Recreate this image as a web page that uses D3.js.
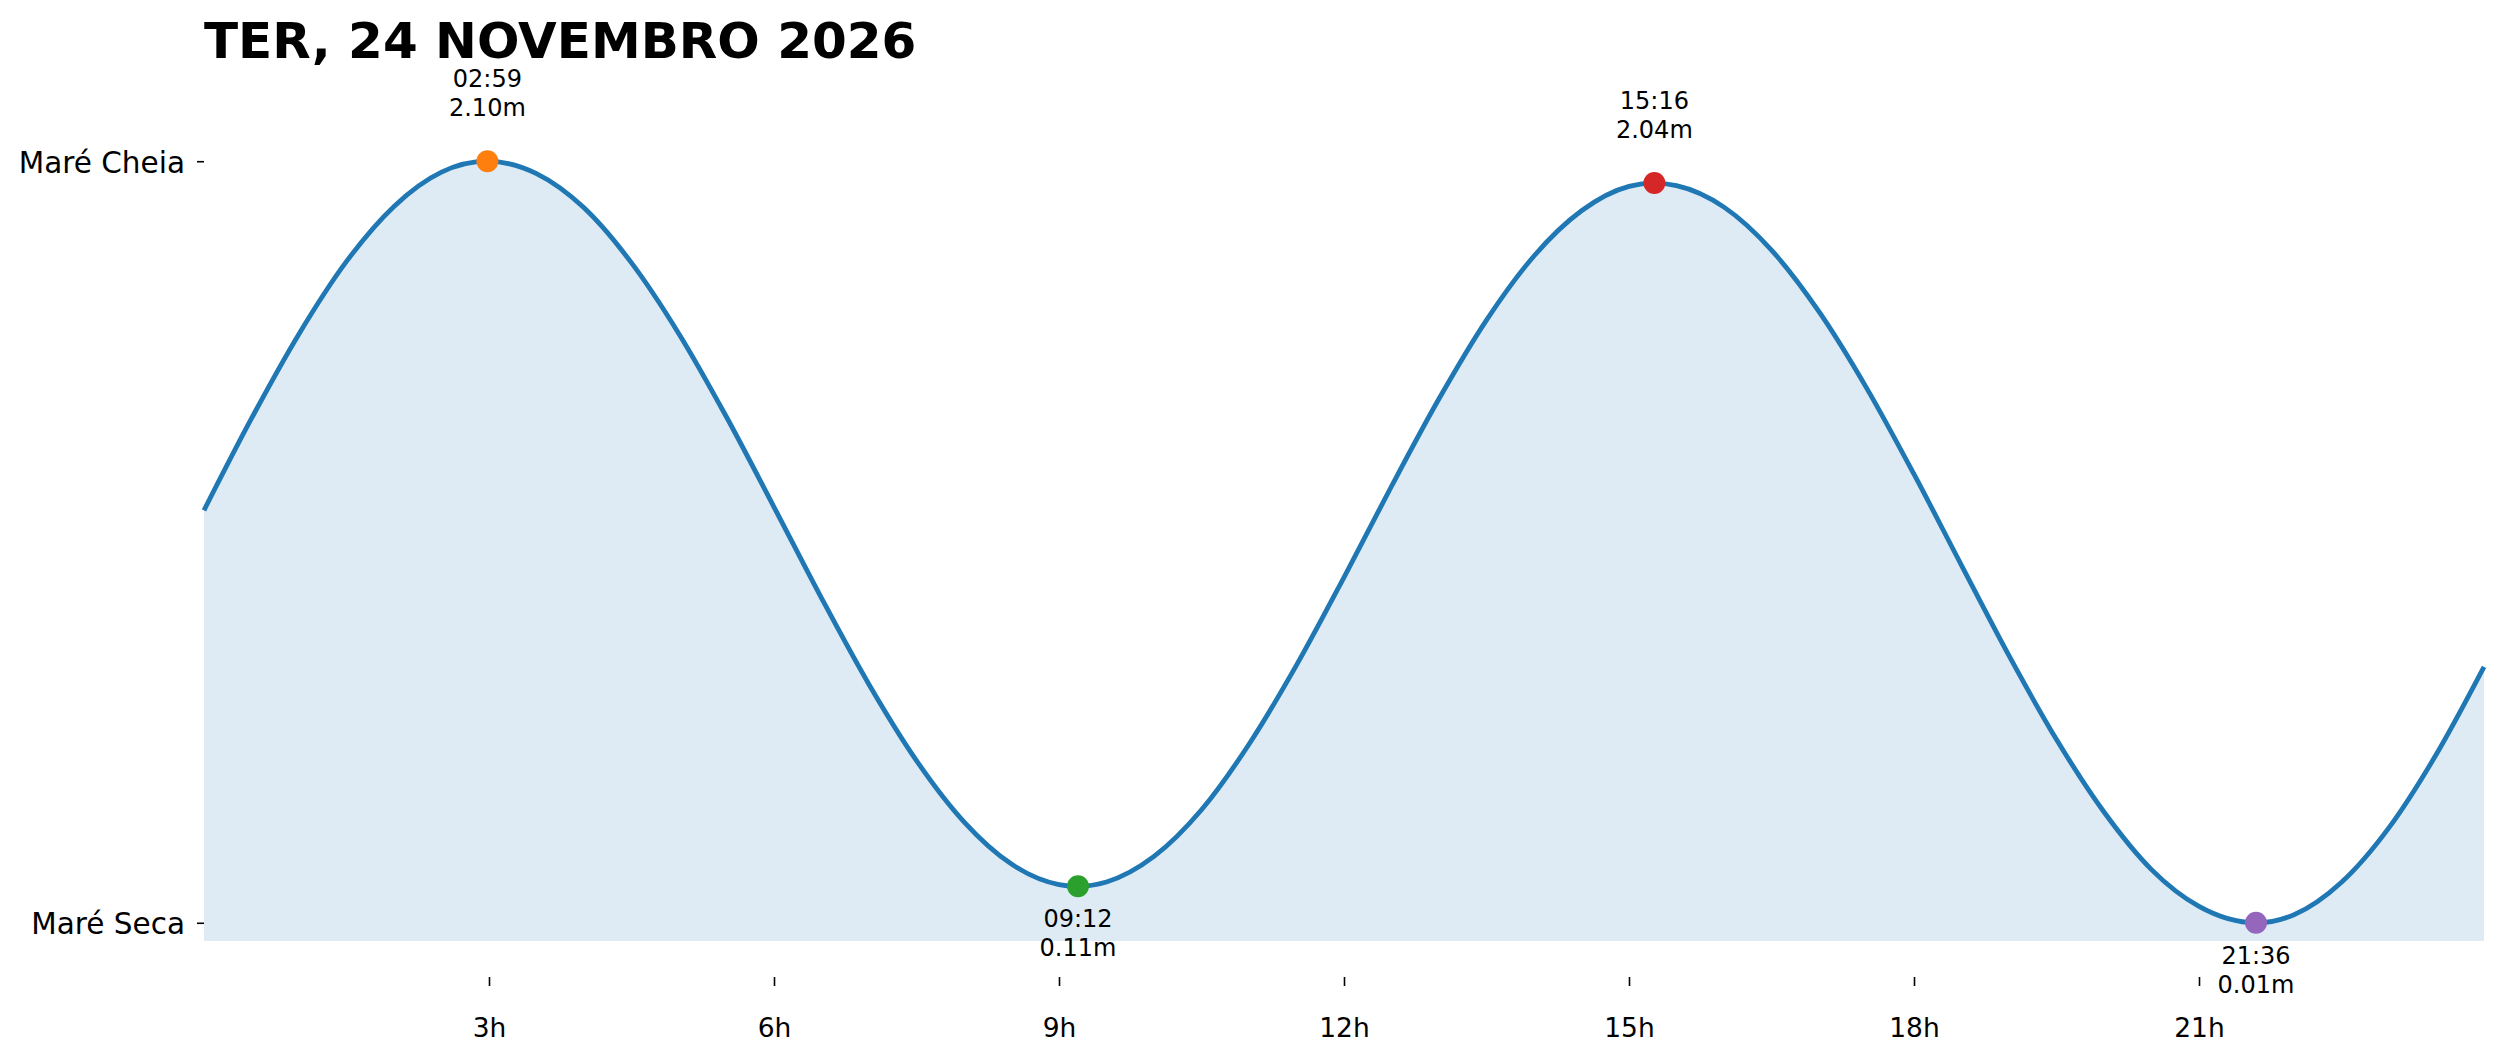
<!DOCTYPE html>
<html>
<head>
<meta charset="utf-8">
<script src="https://cdn.jsdelivr.net/npm/d3@7"></script>
<style>
  html, body { margin: 0; padding: 0; background: #ffffff; }
  svg { display: block; }
  text { font-family: "DejaVu Sans", sans-serif; }
</style>
</head>
<body>
<svg id="chart" width="2501" height="1062"></svg>
<script>
// ---- data ----
const titleText = "TER, 24 NOVEMBRO 2026";

// tide curve (hours, metres)
const seriesHours = [0, 0.5, 1, 1.5, 2, 2.5, 2.983, 3.5, 4, 4.5, 5, 5.5, 6, 6.5, 7, 7.5, 8, 8.5, 9, 9.2,
  9.5, 10, 10.5, 11, 11.5, 12, 12.5, 13, 13.5, 14, 14.5, 15, 15.267, 15.5, 16, 16.5, 17, 17.5, 18, 18.5,
  19, 19.5, 20, 20.5, 21, 21.6, 22, 22.5, 23, 23.5, 24];
const seriesHeights = [1.142, 1.394, 1.626, 1.825, 1.976, 2.070, 2.10, 2.066, 1.972, 1.821, 1.626, 1.398, 1.151, 0.901, 0.664, 0.455, 0.287, 0.171, 0.115, 0.11,
  0.122, 0.192, 0.320, 0.500, 0.717, 0.958, 1.208, 1.448, 1.664, 1.840, 1.964, 2.031, 2.04, 2.033, 1.974, 1.856, 1.687, 1.478, 1.241, 0.991,
  0.743, 0.513, 0.314, 0.156, 0.055, 0.01, 0.032, 0.121, 0.271, 0.473, 0.712];

// extremes
const extremeHours   = [2.983, 9.2, 15.267, 21.6];
const extremeHeights = [2.10, 0.11, 2.04, 0.01];
const extremeTimes   = ["02:59", "09:12", "15:16", "21:36"];
const extremeKinds   = ["high", "low", "high", "low"];
const extremeColors  = ["#ff7f0e", "#2ca02c", "#d62728", "#9467bd"];

// axis ticks
const xTickValues = [3, 6, 9, 12, 15, 18, 21];
const xTickLabels = ["3h", "6h", "9h", "12h", "15h", "18h", "21h"];
const yTickValues = [2.10, 0.01];
const yTickLabels = ["Maré Cheia", "Maré Seca"];

const yFloor = -0.04;

// ---- drawing ----
const svg = d3.select("#chart");
const left = 204, right = 2484;

const x = d3.scaleLinear().domain([0, 24]).range([left, right]);
const y = d3.scaleLinear().domain([-0.04, 2.15]).range([941, 143]);

const pts = seriesHours.map((h, i) => ({ t: h, v: seriesHeights[i] }));

const area = d3.area()
  .x(d => x(d.t))
  .y0(y(yFloor))
  .y1(d => y(d.v))
  .curve(d3.curveMonotoneX);

const line = d3.line()
  .x(d => x(d.t))
  .y(d => y(d.v))
  .curve(d3.curveMonotoneX);

svg.append("path")
  .datum(pts)
  .attr("d", area)
  .attr("fill", "#1f77b4")
  .attr("fill-opacity", 0.15);

svg.append("path")
  .datum(pts)
  .attr("d", line)
  .attr("fill", "none")
  .attr("stroke", "#1f77b4")
  .attr("stroke-width", 4.8)
  .attr("stroke-linejoin", "round");

// x axis
const xAxis = d3.axisBottom(x)
  .tickValues(xTickValues)
  .tickFormat((d, i) => xTickLabels[i])
  .tickSize(9)
  .tickPadding(32);

const gx = svg.append("g")
  .attr("transform", `translate(0,977)`)
  .call(xAxis);
gx.select(".domain").remove();
gx.selectAll(".tick line").attr("stroke", "#000").attr("stroke-width", 1.6);
gx.selectAll(".tick text")
  .attr("fill", "#000")
  .style("font-family", "'DejaVu Sans', sans-serif")
  .style("font-size", "26.5px");

// y axis
const yAxis = d3.axisLeft(y)
  .tickValues(yTickValues)
  .tickFormat((d, i) => yTickLabels[i])
  .tickSize(7)
  .tickPadding(12);

const gy = svg.append("g")
  .attr("transform", `translate(${left},0)`)
  .call(yAxis);
gy.select(".domain").remove();
gy.selectAll(".tick line").attr("stroke", "#000").attr("stroke-width", 1.6);
gy.selectAll(".tick text")
  .attr("fill", "#000")
  .attr("dy", "0.38em")
  .style("font-family", "'DejaVu Sans', sans-serif")
  .style("font-size", "29.5px");

// extremes: markers and labels
const ext = extremeHours.map((h, i) => ({
  t: h, v: extremeHeights[i], time: extremeTimes[i], kind: extremeKinds[i], color: extremeColors[i]
}));

svg.selectAll("circle.ext")
  .data(ext)
  .enter()
  .append("circle")
  .attr("class", "ext")
  .attr("cx", d => x(d.t))
  .attr("cy", d => y(d.v))
  .attr("r", 11)
  .attr("fill", d => d.color);

ext.forEach(d => {
  const cx = x(d.t), cy = y(d.v);
  const b1 = d.kind === "high" ? cy - 74 : cy + 41;
  const b2 = d.kind === "high" ? cy - 45 : cy + 70;
  svg.append("text")
    .attr("x", cx).attr("y", b1)
    .attr("text-anchor", "middle")
    .style("font-size", "24px")
    .attr("fill", "#000")
    .text(d.time);
  svg.append("text")
    .attr("x", cx).attr("y", b2)
    .attr("text-anchor", "middle")
    .style("font-size", "24px")
    .attr("fill", "#000")
    .text(d.v.toFixed(2) + "m");
});

// title
svg.append("text")
  .attr("x", left)
  .attr("y", 58)
  .style("font-size", "50px")
  .style("font-weight", "bold")
  .attr("fill", "#000")
  .text(titleText);
</script>
</body>
</html>
